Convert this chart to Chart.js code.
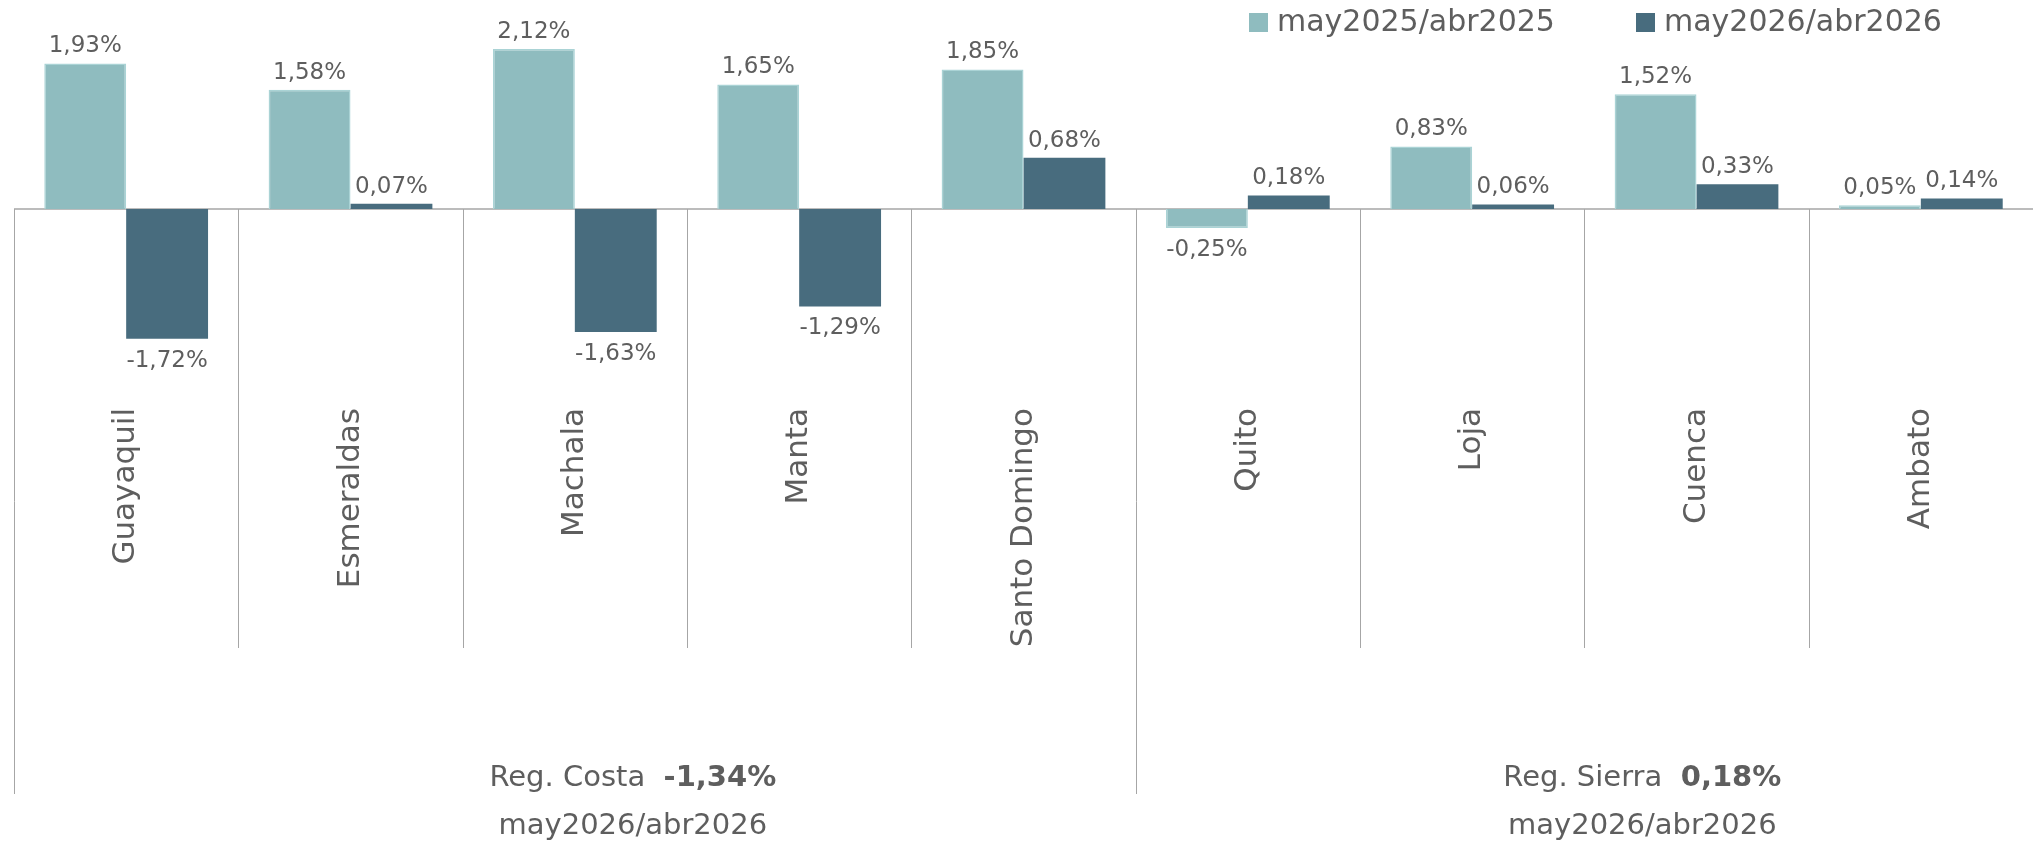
<!DOCTYPE html>
<html>
<head>
<meta charset="utf-8">
<script src="https://cdn.jsdelivr.net/npm/chart.js"></script>
<style>
    body { margin: 0; background: #ffffff; }
    canvas { display: block; }
</style>
</head>
<body>
<canvas id="myChart" width="2033" height="845"></canvas>
<script>
const categories = ['Guayaquil', 'Esmeraldas', 'Machala', 'Manta', 'Santo Domingo', 'Quito', 'Loja', 'Cuenca', 'Ambato'];
const seriesNames = ['may2025/abr2025', 'may2026/abr2026'];
const may2025 = [1.93, 1.58, 2.12, 1.65, 1.85, -0.25, 0.83, 1.52, 0.05];
const may2026 = [-1.72, 0.07, -1.63, -1.29, 0.68, 0.18, 0.06, 0.33, 0.14];
const regions = ['Reg. Costa', 'Reg. Sierra'];
const regionValues = ['-1,34%', '0,18%'];
const regionSizes = [5, 4];
const regionPeriod = 'may2026/abr2026';

const FONT = "'DejaVu Sans', sans-serif";
const TEXT = '#5e5e5e';
const LINE = '#a6a6a6';
const colors = ['#8fbcbf', '#486c7e'];

function fmt(v) {
    return v.toFixed(2).replace('.', ',') + '%';
}

// zero line, category dividers, region labels, value labels, legend
const decorations = {
    id: 'decorations',
    beforeDatasetsDraw(chart) {
        const ctx = chart.ctx;
        const area = chart.chartArea;
        const x = chart.scales.x;
        const y0 = chart.scales.y.getPixelForValue(0);
        const step = x.getPixelForTick(1) - x.getPixelForTick(0);

        ctx.save();
        ctx.strokeStyle = LINE;
        ctx.lineWidth = 1.5;
        ctx.beginPath();
        ctx.moveTo(area.left, y0);
        ctx.lineTo(area.right, y0);
        ctx.stroke();

        // which boundaries start a region
        const starts = [0];
        regionSizes.reduce((acc, n) => { starts.push(acc + n); return acc + n; }, 0);

        ctx.lineWidth = 1;
        for (let i = 0; i <= categories.length; i++) {
            const bx = Math.round(x.getPixelForTick(0) - step / 2 + i * step) + 0.5;
            const bottom = starts.includes(i) ? 794 : 648;
            ctx.beginPath();
            ctx.moveTo(bx, y0);
            ctx.lineTo(bx, bottom);
            ctx.stroke();
        }
        ctx.restore();
    },
    afterDatasetsDraw(chart) {
        const ctx = chart.ctx;
        const x = chart.scales.x;
        const step = x.getPixelForTick(1) - x.getPixelForTick(0);
        ctx.save();
        ctx.fillStyle = TEXT;

        // value labels
        ctx.font = '23px ' + FONT;
        ctx.textAlign = 'center';
        ctx.textBaseline = 'middle';
        chart.data.datasets.forEach((ds, d) => {
            chart.getDatasetMeta(d).data.forEach((bar, i) => {
                const v = ds.data[i];
                const ty = v >= 0 ? bar.y - 17 : bar.y + 22;
                ctx.fillText(fmt(v), bar.x, ty);
            });
        });

        // region labels
        let first = 0;
        regions.forEach((name, r) => {
            const left = x.getPixelForTick(first) - step / 2;
            const right = left + regionSizes[r] * step;
            const cx = (left + right) / 2 + 58;
            ctx.textBaseline = 'middle';
            ctx.font = '29px ' + FONT;
            const a = name + '  ';
            const wa = ctx.measureText(a).width;
            ctx.font = 'bold 29px ' + FONT;
            const wb = ctx.measureText(regionValues[r]).width;
            let sx = cx - (wa + wb) / 2;
            ctx.textAlign = 'left';
            ctx.font = '29px ' + FONT;
            ctx.fillText(a, sx, 778);
            ctx.font = 'bold 29px ' + FONT;
            ctx.fillText(regionValues[r], sx + wa, 778);
            ctx.font = '29px ' + FONT;
            ctx.textAlign = 'center';
            ctx.fillText(regionPeriod, cx, 826);
            first += regionSizes[r];
        });

        // legend
        const legendX = [1249, 1636];
        ctx.font = '30px ' + FONT;
        ctx.textAlign = 'left';
        ctx.textBaseline = 'middle';
        seriesNames.forEach((name, s) => {
            ctx.fillStyle = colors[s];
            ctx.fillRect(legendX[s], 13, 19, 19);
            ctx.fillStyle = TEXT;
            ctx.fillText(name, legendX[s] + 28, 23);
        });
        ctx.restore();
    }
};

const ctx = document.getElementById('myChart').getContext('2d');
const myChart = new Chart(ctx, {
    type: 'bar',
    data: {
        labels: categories,
        datasets: [
            {
                label: seriesNames[0],
                data: may2025,
                backgroundColor: colors[0],
                borderColor: '#aad3d5',
                borderWidth: 1.5,
                categoryPercentage: 0.73,
                barPercentage: 1.0,
            },
            {
                label: seriesNames[1],
                data: may2026,
                backgroundColor: colors[1],
                borderWidth: 0,
                categoryPercentage: 0.73,
                barPercentage: 1.0,
            },
        ]
    },
    options: {
        responsive: false,
        animation: false,
        layout: {
            padding: { left: 14, right: 0, top: 0, bottom: 0 }
        },
        plugins: {
            legend: { display: false },
            tooltip: { enabled: false },
        },
        scales: {
            x: {
                grid: { display: false, drawTicks: false },
                border: { display: false },
                ticks: {
                    minRotation: 90,
                    maxRotation: 90,
                    padding: 8,
                    color: TEXT,
                    font: { family: FONT, size: 31 }
                },
                afterFit(scale) {
                    scale.height = 445;
                }
            },
            y: {
                display: false,
                min: -2.53,
                max: 2.77,
            }
        }
    },
    plugins: [decorations]
});
</script>
</body>
</html>
